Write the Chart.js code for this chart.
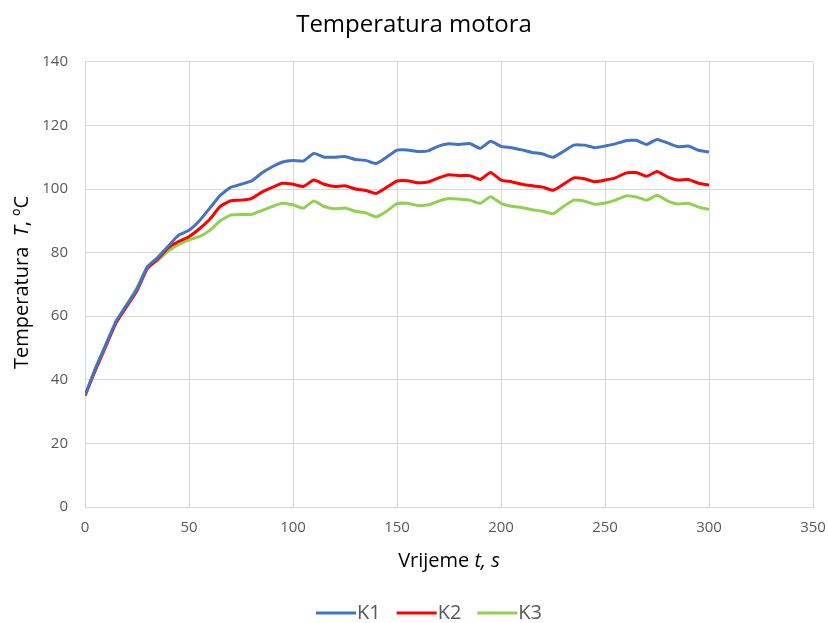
<!DOCTYPE html>
<html>
<head>
<meta charset="utf-8">
<script src="https://cdn.jsdelivr.net/npm/chart.js@4"></script>
<style>
  html, body { margin: 0; padding: 0; background: #fff; }
  #wrap { width: 828px; height: 623px; }
</style>
</head>
<body>
<div id="wrap"><canvas id="motorChart"></canvas></div>
<script>
const time = [0, 5, 10, 15, 20, 25, 30, 35, 40, 45, 50, 55, 60, 65, 70, 75, 80, 85, 90, 95,
  100, 105, 110, 115, 120, 125, 130, 135, 140, 145, 150, 155, 160, 165, 170, 175, 180, 185, 190, 195,
  200, 205, 210, 215, 220, 225, 230, 235, 240, 245, 250, 255, 260, 265, 270, 275, 280, 285, 290, 295, 300];

const k1 = [35, 43.5, 51, 58.5, 63.5, 68.5, 75.5, 78.5, 82, 85.5, 87, 90, 94, 98, 100.5, 101.5, 102.5, 105, 107, 108.5,
  109, 108.8, 111.2, 110, 110, 110.2, 109.3, 109, 108, 110, 112.2, 112.3, 111.8, 112, 113.5, 114.2, 114, 114.3, 112.8, 115,
  113.4, 113, 112.3, 111.5, 111, 110, 111.8, 113.8, 113.8, 113, 113.5, 114.2, 115.2, 115.3, 114, 115.6, 114.5, 113.3, 113.5, 112.2, 111.6];

const k2 = [35, 43, 50.5, 58, 63, 68, 75, 78, 81.5, 83.5, 85, 87.5, 90.5, 94.5, 96.3, 96.5, 97, 99, 100.5, 101.8,
  101.5, 100.8, 102.8, 101.5, 100.8, 101, 100, 99.5, 98.6, 100.5, 102.5, 102.6, 102, 102.2, 103.5, 104.5, 104.2, 104.2, 103, 105.2,
  102.8, 102.3, 101.5, 101, 100.6, 99.6, 101.5, 103.5, 103.2, 102.3, 102.8, 103.5, 105, 105.2, 104, 105.5, 103.8, 102.8, 103, 101.8, 101.2];

const k3 = [35, 43.5, 51, 58, 63.5, 69, 75.5, 77.5, 80.5, 82.5, 84, 85, 87, 90, 91.8, 92, 92, 93.2, 94.5, 95.5,
  95, 94, 96.2, 94.5, 93.8, 94, 93, 92.5, 91.2, 93, 95.4, 95.5, 94.8, 95, 96.2, 97, 96.8, 96.5, 95.5, 97.6,
  95.5, 94.6, 94.2, 93.5, 93, 92.2, 94.5, 96.5, 96.2, 95.2, 95.6, 96.5, 97.8, 97.5, 96.5, 98, 96.3, 95.3, 95.5, 94.3, 93.6];

const seriesNames = ['K1', 'K2', 'K3'];
const seriesColors = ['#4472C4', '#FF0000', '#92D050'];

const xTitle = [['Vrijeme ', 'normal'], ['t, s', 'italic']];
const yTitle = [['Temperatura  ', 'normal'], ['T', 'italic'], [', ºC', 'normal']];

const FONT = '"Open Sans", sans-serif';

function drawParts(ctx, parts, cx, cy, size) {
  let total = 0;
  parts.forEach(p => {
    ctx.font = p[1] + ' ' + size + 'px ' + FONT;
    total += ctx.measureText(p[0]).width;
  });
  let x = cx - total / 2;
  parts.forEach(p => {
    ctx.font = p[1] + ' ' + size + 'px ' + FONT;
    ctx.fillText(p[0], x, cy);
    x += ctx.measureText(p[0]).width;
  });
}

// axis titles (with italic parts) and an excel-like legend
const extras = {
  id: 'extras',
  afterDraw(chart) {
    const ctx = chart.ctx;
    const area = chart.chartArea;
    ctx.save();
    ctx.fillStyle = '#000';
    ctx.textAlign = 'left';
    ctx.textBaseline = 'middle';
    drawParts(ctx, xTitle, (area.left + area.right) / 2, 561, 20);

    // legend
    let x = 316;
    const y = 613;
    ctx.font = '20px ' + FONT;
    chart.data.datasets.forEach(ds => {
      ctx.strokeStyle = ds.borderColor;
      ctx.lineWidth = 3;
      ctx.beginPath();
      ctx.moveTo(x, y);
      ctx.lineTo(x + 40, y);
      ctx.stroke();
      ctx.fillStyle = '#595959';
      ctx.fillText(ds.label, x + 41, y);
      x += 41 + ctx.measureText(ds.label).width + 16;
    });

    ctx.fillStyle = '#000';
    ctx.translate(22, (area.top + area.bottom) / 2 - 2);
    ctx.rotate(-Math.PI / 2);
    drawParts(ctx, yTitle, 0, 0, 20);
    ctx.restore();
  }
};

const datasets = [k1, k2, k3].map((vals, i) => ({
  label: seriesNames[i],
  data: time.map((t, j) => ({ x: t, y: vals[j] })),
  borderColor: seriesColors[i],
  backgroundColor: seriesColors[i],
  borderWidth: 3,
  pointRadius: 0,
  tension: 0.15
}));

new Chart(document.getElementById('motorChart'), {
  type: 'line',
  data: { datasets: datasets },
  plugins: [extras],
  options: {
    responsive: true,
    maintainAspectRatio: false,
    animation: false,
    layout: { padding: { left: 0, right: 0, top: 0, bottom: 50 } },
    scales: {
      x: {
        type: 'linear',
        min: 0,
        max: 350,
        ticks: { stepSize: 50, color: '#595959', font: { family: FONT, size: 15 }, padding: 12 },
        grid: { color: '#d9d9d9', drawTicks: false },
        border: { color: '#d9d9d9' },
        afterFit(axis) {
          axis.height = 66;
          axis.paddingLeft = 0;
          axis.paddingRight = 15;
        }
      },
      y: {
        min: 0,
        max: 140,
        ticks: { stepSize: 20, color: '#595959', font: { family: FONT, size: 15 }, padding: 17 },
        grid: { color: '#d9d9d9', drawTicks: false },
        border: { color: '#d9d9d9' },
        afterFit(axis) { axis.width = 85; }
      }
    },
    plugins: {
      title: {
        display: true,
        text: 'Temperatura motora',
        color: '#000',
        font: { family: FONT, size: 24, weight: 'normal' },
        padding: { top: 11, bottom: 22 }
      },
      legend: { display: false },
      tooltip: { enabled: false }
    }
  }
});
</script>
</body>
</html>
